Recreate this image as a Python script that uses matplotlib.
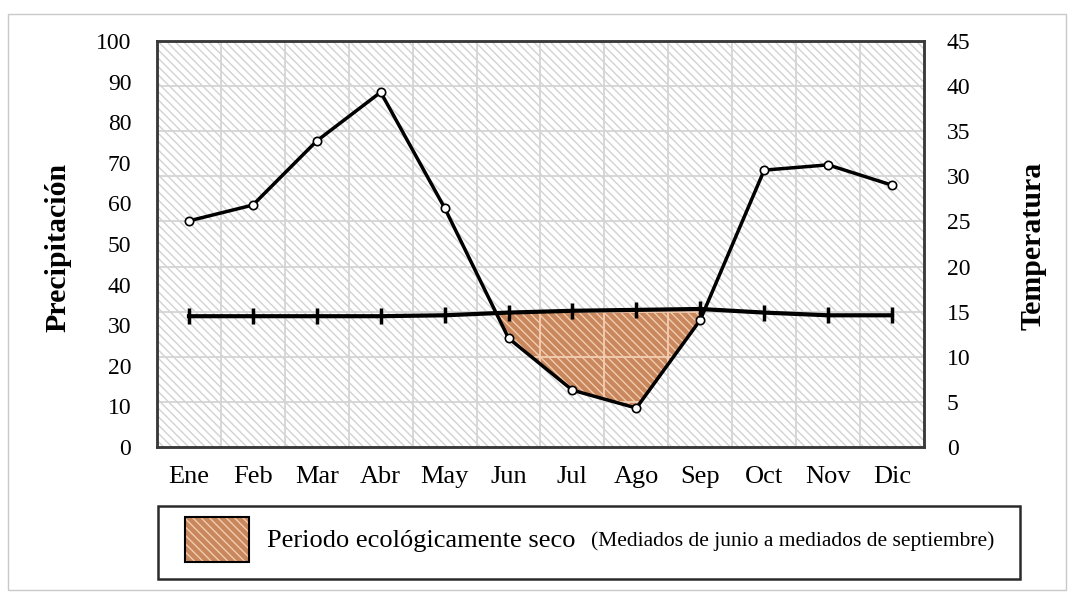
import numpy as np
import matplotlib
matplotlib.use('Agg')
import matplotlib.pyplot as plt
from matplotlib.patches import Rectangle

plt.rcParams['font.family'] = ['Liberation Serif', 'DejaVu Serif']
plt.rcParams['hatch.linewidth'] = 1.0

# Datos
meses = ['Ene', 'Feb', 'Mar', 'Abr', 'May', 'Jun', 'Jul', 'Ago', 'Sep', 'Oct', 'Nov', 'Dic']
precipitacion = [55.7, 59.6, 75.4, 87.4, 58.9, 26.8, 14.0, 9.6, 31.3, 68.2, 69.5, 64.5]
temperatura = [14.5, 14.5, 14.5, 14.5, 14.6, 14.9, 15.1, 15.2, 15.3, 14.9, 14.6, 14.6]
ticks_prec = list(range(0, 101, 10))
ticks_temp = list(range(0, 46, 5))

x = np.arange(len(meses))
P = np.array(precipitacion)

fig = plt.figure(figsize=(10.71, 5.92), dpi=100)
ax1 = fig.add_axes([0.1466, 0.2449, 0.7161, 0.6858])
ax2 = ax1.twinx()

ax1.set_xlim(-0.5, 11.5)
ax1.set_ylim(0, 100)
ax2.set_ylim(0, 45)

# factor entre el eje de temperatura y el de precipitacion
k = (ax1.get_ylim()[1] - ax1.get_ylim()[0]) / (ax2.get_ylim()[1] - ax2.get_ylim()[0])
T_izq = np.array(temperatura) * k

# fondo rayado
ax1.add_patch(Rectangle((0, 0), 1, 1, transform=ax1.transAxes, facecolor='white',
                        edgecolor='#d2d2d2', hatch='\\\\\\\\', linewidth=0, zorder=0.1))

# periodo seco
seco = ax1.fill_between(x, P, T_izq, where=P < T_izq, interpolate=True, facecolor='#c8875c',
                        edgecolor='#f2cbb0', hatch='\\\\\\\\', linewidth=0, zorder=1)

# rejilla: gris fuera, clara dentro del periodo seco
def rejilla(color, z, clip=None):
    lineas = []
    for t in ticks_temp[1:-1]:
        lineas.append(ax1.axhline(t * k, color=color, lw=1.3, zorder=z))
    for i in range(len(meses) - 1):
        lineas.append(ax1.axvline(i + 0.5, color=color, lw=1.3, zorder=z))
    if clip is not None:
        for ln in lineas:
            ln.set_clip_path(clip, ax1.transData)

rejilla('#d4d4d4', 0.5)
for path in seco.get_paths():
    rejilla('#f3cdb3', 1.2, path)

ax1.plot(x, P, color='black', lw=2.5, marker='o', ms=6, mfc='white', mec='black', mew=1.2, zorder=3)
ax2.plot(x, temperatura, color='black', lw=3, marker='|', ms=11, mew=2.5, zorder=3)

ax1.set_xticks(x)
ax1.set_xticklabels(meses, fontsize=19)
ax1.set_yticks(ticks_prec)
ax1.tick_params(axis='y', length=0, pad=18.5, labelsize=17)
ax1.tick_params(axis='x', length=0, pad=14)
ax2.set_yticks(ticks_temp)
ax2.tick_params(axis='y', length=0, pad=16.5, labelsize=17)

for ax in (ax1, ax2):
    for s in ax.spines.values():
        s.set_color('#3a3a3a')
        s.set_linewidth(1.8)

fig.text(58 / 1071, 0.5828, 'Precipitación', rotation=90, ha='center', va='center',
         fontsize=21.5, fontweight='bold')
fig.text(1033 / 1071, 0.5853, 'Temperatura', rotation=90, ha='center', va='center',
         fontsize=21.5, fontweight='bold')

# leyenda
fig.patches.append(Rectangle((158 / 1071, 1 - 579 / 592), 862 / 1071, 73 / 592,
                             transform=fig.transFigure, facecolor='white',
                             edgecolor='#2a2a2a', lw=1.8))
fig.patches.append(Rectangle((185 / 1071, 1 - 562 / 592), 64 / 1071, 45 / 592,
                             transform=fig.transFigure, facecolor='#c8875c',
                             edgecolor='#f2cbb0', hatch='\\\\\\\\', lw=0))
fig.patches.append(Rectangle((185 / 1071, 1 - 562 / 592), 64 / 1071, 45 / 592,
                             transform=fig.transFigure, fill=False,
                             edgecolor='black', lw=1.5))
fig.text(267 / 1071, 1 - 541 / 592, 'Periodo ecológicamente seco', ha='left', va='center', fontsize=19)
fig.text(591 / 1071, 1 - 541 / 592, '(Mediados de junio a mediados de septiembre)',
         ha='left', va='center', fontsize=15.5)

# marco exterior
fig.patches.append(Rectangle((8 / 1071, 2 / 592), 1058 / 1071, 576 / 592,
                             transform=fig.transFigure, fill=False,
                             edgecolor='#c9c9c9', lw=1))

fig.savefig('out.png', dpi=100)
